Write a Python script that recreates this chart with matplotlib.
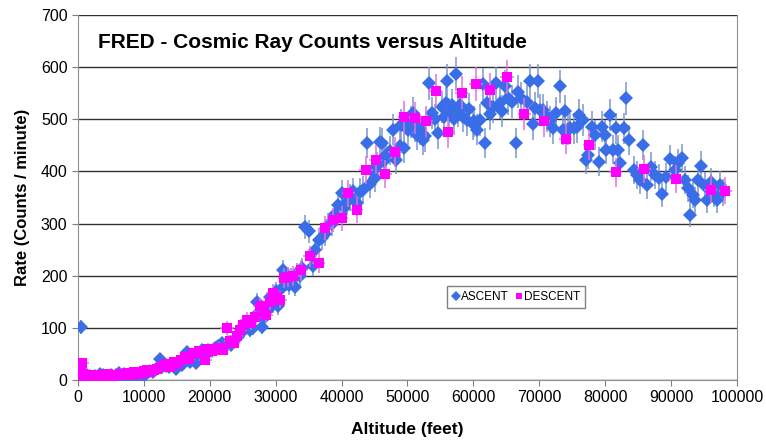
import numpy as np
import matplotlib
matplotlib.use('Agg')
import matplotlib.pyplot as plt
from matplotlib.lines import Line2D

# Ascent: altitude (feet) and rate (counts / minute)
ascent_alt = [300, 500, 700, 1000, 1400, 1800, 2200, 2600, 3000, 3400, 3800, 4200, 4600, 5000, 5400,
              5800, 6200, 6600, 7000, 7400, 7800, 8200, 8600, 9000, 9400, 9800, 10200, 10600, 11000,
              11400, 11800, 12400, 12800, 13300, 13800, 14300, 14800, 15300, 15800, 16500, 17000, 17500,
              17900, 18400, 18800, 19300, 19800, 20300, 20800, 21300, 21800, 22300, 22800, 23200, 23600,
              24000, 24300, 24800, 25300, 25700, 26100, 26500, 27100, 27500, 27900, 28300, 28800, 29100,
              29600, 30000, 30400, 30800, 31100, 31600, 32000, 32400, 32900, 33300, 33700, 34000, 34400,
              35000, 35600, 36000, 36500, 37000, 37500, 38000, 38500, 39000, 39500, 40000, 40400, 40800,
              41300, 41800, 42300, 42800, 43300, 43800, 44300, 44700, 45000, 45400, 45800, 46200, 46500,
              46800, 47300, 47800, 48300, 48900, 49000, 49500, 50100, 50500, 50900, 51100, 51500, 51900,
              52400, 52700, 53200, 53700, 54200, 54700, 55200, 55600, 55900, 56000, 56300, 56700, 57000,
              57400, 57700, 58000, 58500, 59000, 59400, 59900, 60100, 60500, 61000, 61500, 61800, 62000,
              62500, 63000, 63500, 64000, 64400, 64800, 65300, 65800, 66500, 66800, 67300, 68100, 68600,
              69000, 69300, 69800, 70100, 70600, 71100, 71600, 72100, 72600, 73100, 73600, 73900, 74400,
              74700, 75200, 75700, 76000, 76600, 77100, 77400, 78000, 78500, 79100, 79500, 80000, 80200,
              80700, 81200, 81600, 82000, 82200, 82900, 83200, 83600, 84300, 84800, 85300, 85700, 86300,
              87000, 87600, 88100, 88600, 89300, 89800, 90600, 91100, 91600, 92100, 92600, 92900, 93300,
              93600, 94100, 94500, 95100, 95500, 96000, 96500, 96900, 97400, 97900]
ascent_rate = [12, 102, 8, 6, 9, 7, 5, 8, 6, 11, 9, 8, 7, 10, 6,
               9, 13, 8, 11, 7, 4, 9, 12, 8, 14, 6, 12, 16, 18,
               15, 22, 40, 24, 27, 25, 30, 22, 33, 28, 54, 35, 40,
               32, 45, 58, 50, 52, 56, 62, 65, 70, 66, 72, 68, 77,
               80, 83, 90, 100, 108, 96, 99, 150, 130, 102, 118, 135, 160,
               145, 170, 141, 175, 210, 190, 182, 195, 179, 205, 200, 215, 294,
               285, 219, 250, 269, 272, 280, 297, 300, 318, 336, 358, 330, 342,
               350, 362, 340, 361, 365, 455, 375, 400, 387, 410, 457, 454, 420,
               432, 440, 480, 422, 449, 489, 445, 480, 495, 512, 487, 470, 481,
               460, 467, 569, 512, 500, 473, 524, 505, 531, 573, 510, 528, 500,
               587, 515, 528, 505, 499, 519, 490, 496, 480, 499, 567, 454, 531,
               510, 524, 569, 531, 515, 563, 540, 534, 454, 553, 540, 534, 573,
               491, 521, 574, 518, 518, 505, 496, 483, 513, 563, 480, 515, 480,
               483, 483, 485, 508, 499, 422, 432, 486, 470, 419, 486, 470, 442,
               508, 442, 483, 441, 416, 483, 540, 460, 403, 393, 384, 451, 374,
               409, 393, 387, 357, 390, 423, 402, 416, 425, 384, 368, 317, 355,
               345, 384, 411, 372, 345, 380, 358, 345, 374, 360]

# Descent: altitude (feet) and rate (counts / minute)
descent_alt = [100, 200, 300, 400, 500, 600, 800, 1000, 1300, 1600, 2000, 2500, 3000, 3500, 4000,
               4500, 5000, 5500, 6000, 6500, 7000, 7500, 8000, 8500, 9000, 9500, 10000, 10500, 11000,
               11500, 12000, 12700, 13300, 13900, 14500, 15100, 15700, 16200, 16800, 17300, 17800, 18300,
               19300, 19800, 20300, 20800, 21400, 22000, 22600, 23100, 23600, 24100, 24600, 25100, 25600,
               26200, 26800, 27600, 28100, 28600, 29100, 29600, 30200, 30700, 31300, 31900, 32700, 33900,
               35200, 36500, 37500, 38700, 40000, 41000, 42300, 43700, 45200, 46600, 48100, 49500, 51100,
               52800, 54300, 56200, 58200, 60400, 62500, 65100, 67700, 70700, 74000, 77600, 81600, 85900,
               90700, 96000, 98200]
descent_rate = [15, 30, 22, 8, 18, 32, 12, 6, 10, 8, 5, 9, 7, 10, 8,
                12, 9, 7, 10, 11, 9, 13, 10, 16, 14, 11, 17, 19, 16,
                20, 22, 26, 30, 24, 35, 30, 38, 45, 40, 50, 51, 55,
                38, 60, 55, 58, 62, 58, 99, 75, 70, 85, 95, 105, 115,
                110, 120, 142, 130, 125, 150, 166, 160, 154, 195, 198, 200, 210,
                237, 225, 291, 307, 310, 358, 326, 402, 422, 395, 437, 504, 503,
                496, 555, 475, 551, 568, 556, 581, 510, 497, 463, 451, 398, 404,
                385, 365, 363]

ascent_alt = np.array(ascent_alt)
ascent_rate = np.array(ascent_rate)
descent_alt = np.array(descent_alt)
descent_rate = np.array(descent_rate)

# counting error on a one minute sample
ascent_err = 1.35 * np.sqrt(ascent_rate)
descent_err = 1.35 * np.sqrt(descent_rate)
descent_xerr = 1000

blue = '#3a6ee8'
magenta = '#ff00ff'

plt.rcParams['font.family'] = ['Liberation Sans', 'DejaVu Sans']

fig = plt.figure(figsize=(7.66, 4.40), dpi=100)
ax = fig.add_axes([0.1018, 0.1364, 0.8603, 0.8295])

ax.errorbar(ascent_alt, ascent_rate, yerr=ascent_err, fmt='D', color=blue,
            ecolor='#7a97cf', elinewidth=1.1, capsize=3, capthick=1.1, markersize=7,
            markeredgewidth=0, zorder=3)
ax.errorbar(descent_alt, descent_rate, yerr=descent_err, xerr=descent_xerr, fmt='s',
            color=magenta, ecolor='#e070e0', elinewidth=1.1, capsize=3, capthick=1.1,
            markersize=6.5, markeredgewidth=0, zorder=4)

ax.set_xlim(0, 100000)
ax.set_ylim(0, 700)
ax.set_xticks(np.arange(0, 100001, 10000))
ax.set_yticks(np.arange(0, 701, 100))
ax.ticklabel_format(style='plain', axis='x')
ax.tick_params(labelsize=11.5, direction='out', length=4, color='#808080')
ax.grid(axis='y', color='#303030', linewidth=1)
ax.set_axisbelow(True)
for s in ax.spines.values():
    s.set_color('#909090')
ax.spines['top'].set_visible(False)

ax.set_xlabel('Altitude (feet)', fontsize=12.5, fontweight='bold', labelpad=12)
ax.set_ylabel('Rate (Counts / minute)', fontsize=12, fontweight='bold', labelpad=8)
ax.text(0.03, 0.925, 'FRED - Cosmic Ray Counts versus Altitude', transform=ax.transAxes,
        fontsize=15, fontweight='bold', va='center', ha='left')

handles = [Line2D([], [], marker='D', color=blue, linestyle='none', markersize=5, markeredgewidth=0),
           Line2D([], [], marker='s', color=magenta, linestyle='none', markersize=5, markeredgewidth=0)]
leg = ax.legend(handles, ['ASCENT', 'DESCENT'], loc='center', bbox_to_anchor=(0.665, 0.227),
                ncol=2, fontsize=8.5, frameon=True, fancybox=False, edgecolor='#606060',
                handlelength=0.7, handletextpad=0.1, columnspacing=0.5, borderpad=0.4)
leg.get_frame().set_linewidth(1)

fig.savefig('out.png', dpi=100)
